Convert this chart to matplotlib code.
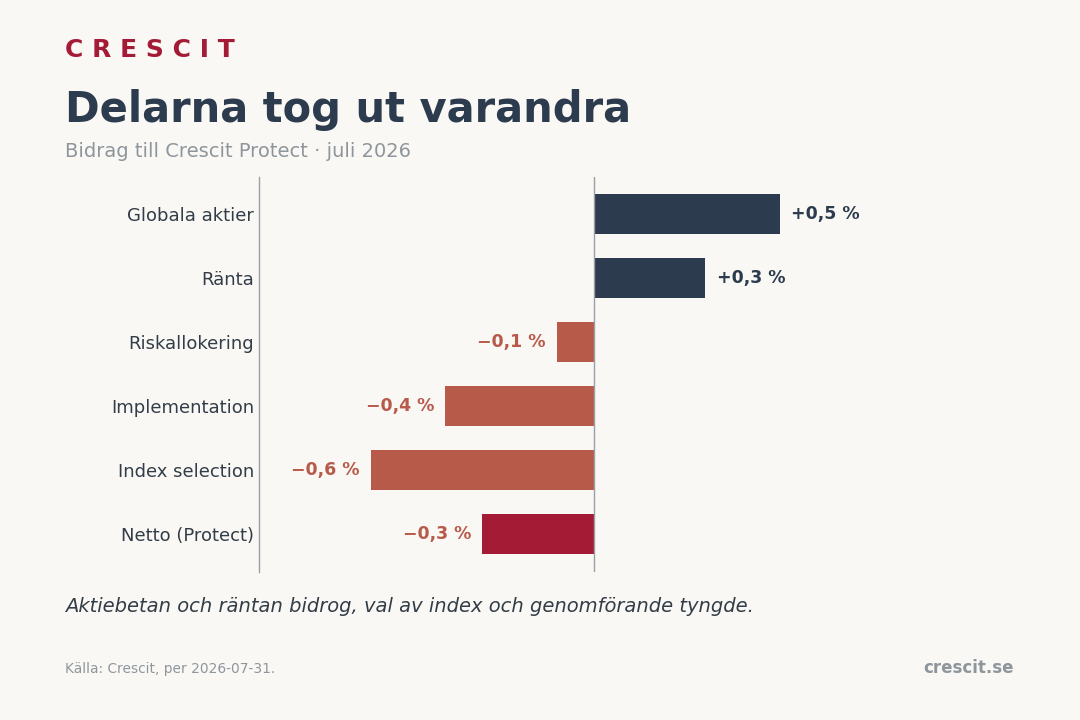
import matplotlib.pyplot as plt

# Data
categories = ["Globala aktier", "Ränta", "Riskallokering", "Implementation",
              "Index selection", "Netto (Protect)"]
values = [0.5, 0.3, -0.1, -0.4, -0.6, -0.3]
value_labels = ["+0,5 %", "+0,3 %", "\u22120,1 %", "\u22120,4 %", "\u22120,6 %", "\u22120,3 %"]

BG = "#f9f8f5"
NAVY = "#2c3b4d"
TERRA = "#b85a4a"
CRIMSON = "#a31b34"
GRAY = "#8e969c"
TEXT = "#333d47"

plt.rcParams["font.family"] = ["DejaVu Sans"]

fig = plt.figure(figsize=(10.8, 7.2), dpi=100, facecolor=BG)
ax = fig.add_axes([259 / 1080, 1 - 572 / 720, (1015 - 259) / 1080, (572 - 177) / 720])
ax.set_facecolor(BG)

colors = []
for i, v in enumerate(values):
    if categories[i].startswith("Netto"):
        colors.append(CRIMSON)
    elif v >= 0:
        colors.append(NAVY)
    else:
        colors.append(TERRA)

y = list(range(len(categories)))
ax.barh(y, values, height=0.62, color=colors, zorder=2)

# Value labels
for yi, v, lab in zip(y, values, value_labels):
    if v >= 0:
        ax.annotate(lab, (v, yi), xytext=(8, 0), textcoords="offset points",
                    ha="left", va="center", fontsize=12.5, fontweight="bold", color=NAVY)
    else:
        ax.annotate(lab, (v, yi), xytext=(-8, 0), textcoords="offset points",
                    ha="right", va="center", fontsize=12.5, fontweight="bold", color=TERRA)

ax.axvline(0, color="#9aa0a5", lw=1, zorder=3)
ax.set_xlim(-0.9, 1.132)
ax.set_ylim(5.59, -0.58)

ax.set_yticks(y)
ax.set_yticklabels(categories, fontsize=13, color=TEXT)
ax.tick_params(axis="y", length=0, pad=3.5)
ax.set_xticks([])
for side in ["top", "right", "bottom"]:
    ax.spines[side].set_visible(False)
ax.spines["left"].set_color("#9aa0a5")
ax.spines["left"].set_linewidth(1)

# Header
fig.text(65 / 1080, 1 - 57 / 720, "C R E S C I T", fontsize=18, fontweight="bold",
         color=CRIMSON, ha="left", va="baseline")
fig.text(65 / 1080, 1 - 122 / 720, "Delarna tog ut varandra", fontsize=30,
         fontweight="bold", color=NAVY, ha="left", va="baseline")
fig.text(65 / 1080, 1 - 157 / 720, "Bidrag till Crescit Protect · juli 2026",
         fontsize=14, color=GRAY, ha="left", va="baseline")

# Footer
fig.text(65 / 1080, 1 - 612 / 720,
         "Aktiebetan och räntan bidrog, val av index och genomförande tyngde.",
         fontsize=14, style="italic", color=TEXT, ha="left", va="baseline")
fig.text(65 / 1080, 1 - 673 / 720, "Källa: Crescit, per 2026-07-31.",
         fontsize=9.9, color=GRAY, ha="left", va="baseline")
fig.text(1014 / 1080, 1 - 673 / 720, "crescit.se", fontsize=12, fontweight="bold",
         color=GRAY, ha="right", va="baseline")

fig.savefig("out.png", dpi=100, facecolor=BG)
